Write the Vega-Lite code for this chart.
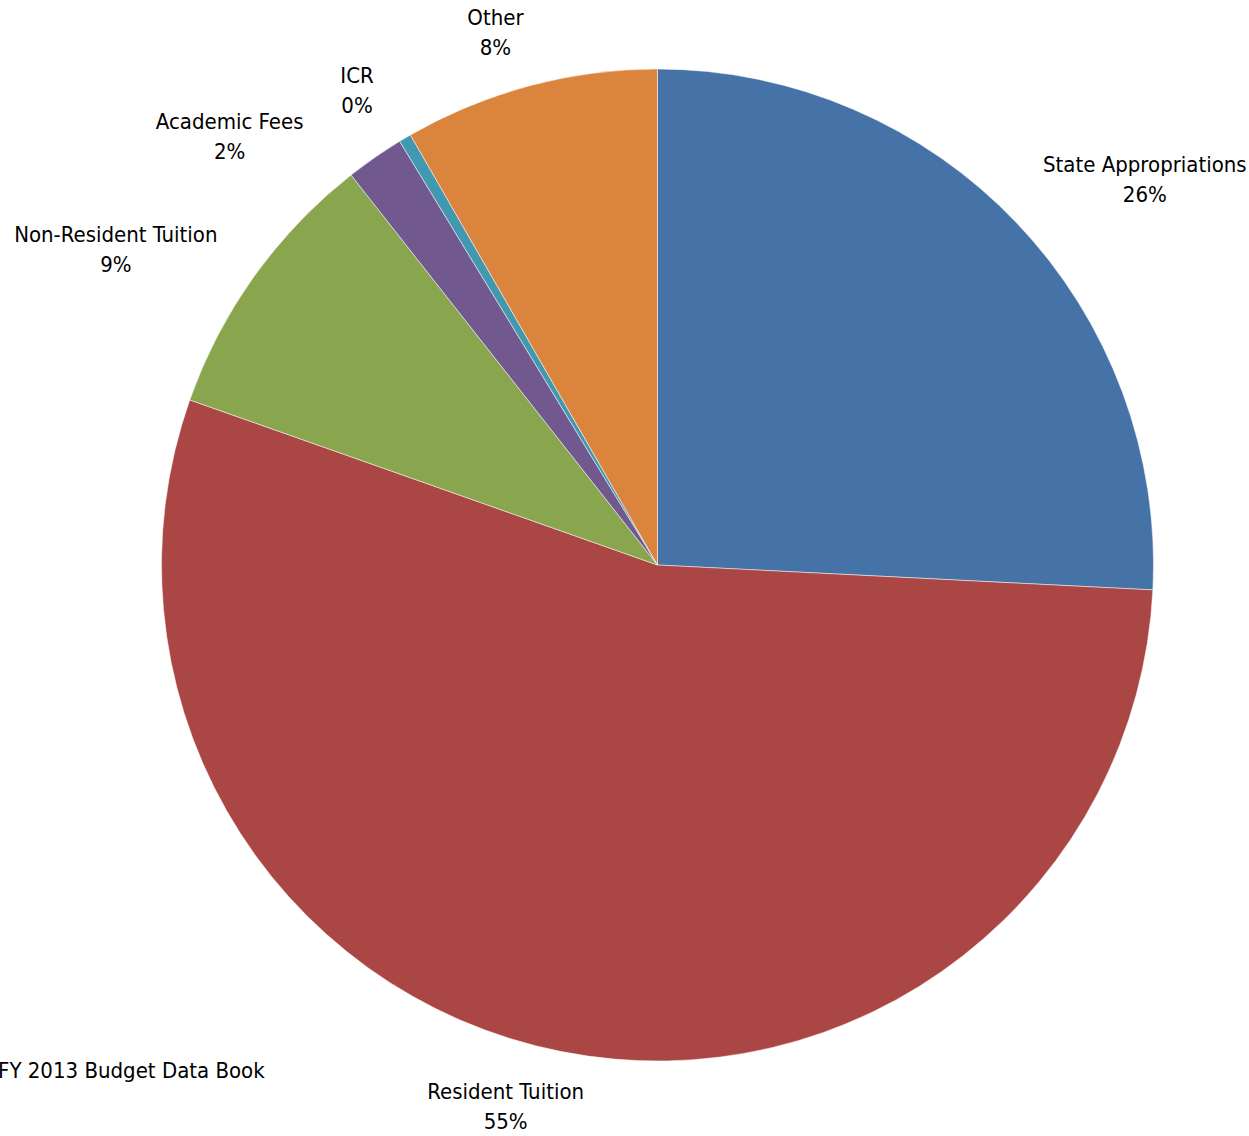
{
  "$schema": "https://vega.github.io/schema/vega-lite/v6.json",
  "width": 1183,
  "height": 1130,
  "autosize": "none",
  "padding": {"left": 66, "top": 0, "right": 0, "bottom": 6},
  "background": "white",
  "config": {"view": {"stroke": null}, "font": "DejaVu Sans Condensed, sans-serif"},
  "title": {"text": "FY 2013 Budget Data Book", "orient": "bottom", "anchor": "start", "frame": "group", "offset": -72, "dx": -68, "fontSize": 22, "fontWeight": "normal", "font": "DejaVu Sans Condensed, sans-serif", "color": "black"},
  "data": {"values": [
    {"category": "State Appropriations", "share": 25.8, "order": 1, "label": "State Appropriations\n26%"},
    {"category": "Resident Tuition", "share": 54.6, "order": 2, "label": "Resident Tuition\n55%"},
    {"category": "Non-Resident Tuition", "share": 9.0, "order": 3, "label": "Non-Resident Tuition\n9%"},
    {"category": "Academic Fees", "share": 1.9, "order": 4, "label": "Academic Fees\n2%"},
    {"category": "ICR", "share": 0.4, "order": 5, "label": "ICR\n0%"},
    {"category": "Other", "share": 8.3, "order": 6, "label": "Other\n8%"}
  ]},
  "encoding": {
    "theta": {"field": "share", "type": "quantitative", "stack": true},
    "order": {"field": "order", "type": "quantitative"}
  },
  "layer": [
    {
      "mark": {"type": "arc", "outerRadius": 496, "stroke": "white", "strokeWidth": 0.5},
      "encoding": {
        "color": {"field": "category", "type": "nominal", "legend": null,
          "scale": {"domain": ["State Appropriations", "Resident Tuition", "Non-Resident Tuition", "Academic Fees", "ICR", "Other"],
                    "range": ["#4572A7", "#AA4643", "#89A54E", "#71588F", "#4198AF", "#DB843D"]}}
      }
    },
    {
      "mark": {"type": "text", "radius": 558, "align": "center", "baseline": "middle", "dx": 83, "dy": -15, "fontSize": 22, "lineHeight": 30, "lineBreak": "\n", "color": "black"},
      "encoding": {"text": {"condition": {"test": "datum.category === 'State Appropriations'", "field": "label"}, "value": ""}}
    },
    {
      "mark": {"type": "text", "radius": 541, "align": "center", "baseline": "middle", "dx": -102, "dy": -15, "fontSize": 22, "lineHeight": 30, "lineBreak": "\n", "color": "black"},
      "encoding": {"text": {"condition": {"test": "datum.category === 'Non-Resident Tuition'", "field": "label"}, "value": ""}}
    },
    {
      "mark": {"type": "text", "radius": 521, "align": "center", "baseline": "middle", "dx": -131, "dy": -15, "fontSize": 22, "lineHeight": 30, "lineBreak": "\n", "color": "black"},
      "encoding": {"text": {"condition": {"test": "datum.category === 'Academic Fees'", "field": "label"}, "value": ""}}
    },
    {
      "mark": {"type": "text", "radius": 551, "align": "center", "baseline": "middle", "dx": -20, "dy": -15, "fontSize": 22, "lineHeight": 30, "lineBreak": "\n", "color": "black"},
      "encoding": {"text": {"condition": {"test": "datum.category === 'ICR' || datum.category === 'Other'", "field": "label"}, "value": ""}}
    },
    {
      "mark": {"type": "text", "radius": 552, "align": "center", "baseline": "middle", "dx": -45, "dy": -15, "fontSize": 22, "lineHeight": 30, "lineBreak": "\n", "color": "black"},
      "encoding": {"text": {"condition": {"test": "datum.category === 'Resident Tuition'", "field": "label"}, "value": ""}}
    }
  ]
}
